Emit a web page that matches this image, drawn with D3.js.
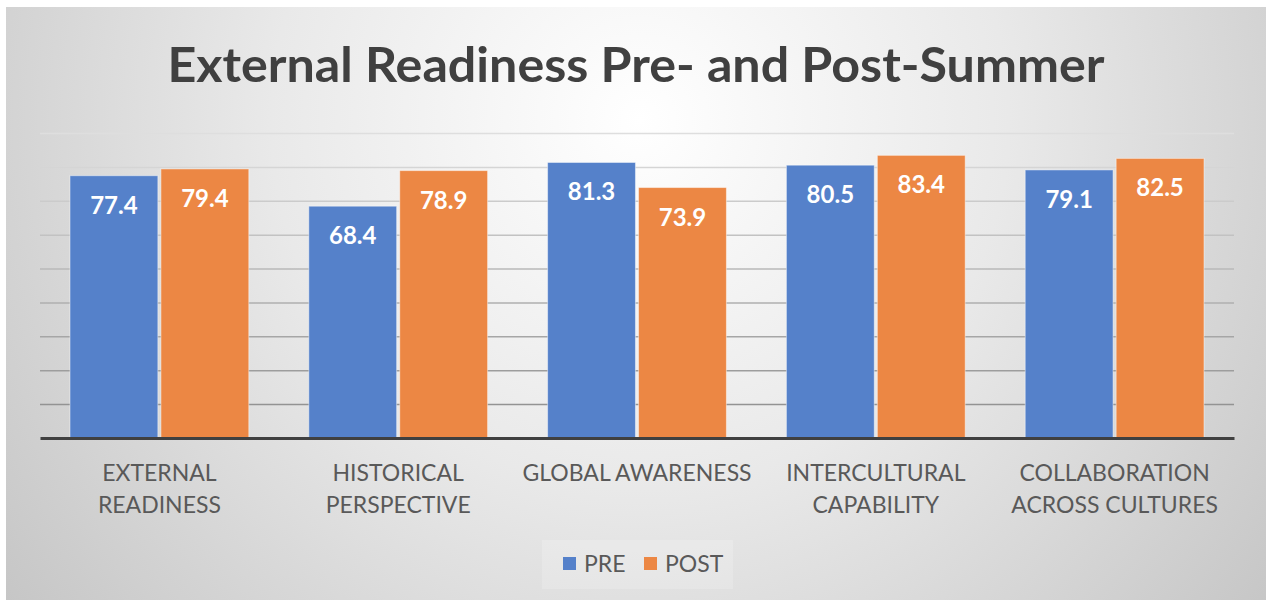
<!DOCTYPE html>
<html>
<head>
<meta charset="utf-8">
<script src="https://cdn.jsdelivr.net/npm/d3@7"></script>
<style>
  body { margin: 0; background: #fff; }
  #chart svg { display: block; }
</style>
</head>
<body>
<div id="chart"></div>
<script>
// values
const categories = ["EXTERNAL\nREADINESS", "HISTORICAL\nPERSPECTIVE", "GLOBAL AWARENESS", "INTERCULTURAL\nCAPABILITY", "COLLABORATION\nACROSS CULTURES"];
const series = ["PRE", "POST"];
const preValues = [77.4, 68.4, 81.3, 80.5, 79.1];
const postValues = [79.4, 78.9, 73.9, 83.4, 82.5];
const yTicks = [0, 10, 20, 30, 40, 50, 60, 70, 80, 90];
const titleText = "External Readiness Pre- and Post-Summer";

const colors = { PRE: "#5581ca", POST: "#ec8744" };

const W = 1266, H = 600;
const margin = { top: 133, right: 32, bottom: 162, left: 40 };
const width = W - margin.left - margin.right;
const height = H - margin.top - margin.bottom;

const svg = d3.select("#chart").append("svg")
  .attr("width", W)
  .attr("height", H);

// gray radial background like the office chart style
const defs = svg.append("defs");
const grad = defs.append("radialGradient")
  .attr("id", "bg")
  .attr("gradientUnits", "userSpaceOnUse")
  .attr("cx", 640).attr("cy", 120).attr("r", 820);
grad.append("stop").attr("offset", "0").attr("stop-color", "#ffffff");
grad.append("stop").attr("offset", "0.45").attr("stop-color", "#e9e9e9");
grad.append("stop").attr("offset", "1").attr("stop-color", "#c4c4c4");

svg.append("rect")
  .attr("x", 6).attr("y", 7)
  .attr("width", W - 6).attr("height", H - 7)
  .attr("fill", "url(#bg)");

// title
const title = svg.append("text")
  .attr("x", 636)
  .attr("y", 82)
  .attr("text-anchor", "middle")
  .attr("font-family", "Lato, 'Open Sans', sans-serif")
  .attr("font-weight", "bold")
  .attr("font-size", 48)
  .attr("fill", "#404040")
  .text(titleText);
// squeeze it to the width it has in the picture
const tw = title.node().getComputedTextLength();
if (Math.abs(tw - 937) > 10) title.attr("textLength", 937).attr("lengthAdjust", "spacingAndGlyphs");

const g = svg.append("g")
  .attr("transform", `translate(${margin.left},${margin.top})`);

const x0 = d3.scaleBand()
  .domain(categories)
  .range([0, width])
  .padding(0);

const x1 = d3.scaleBand()
  .domain(series)
  .range([0, x0.bandwidth()])
  .paddingInner(0.034)
  .paddingOuter(0.33);

const y = d3.scaleLinear()
  .domain([0, 90])
  .range([height, 0]);

// gridlines, getting darker toward the bottom
const gridColor = d3.interpolateRgb("#dedede", "#8a8a8a");
const grid = g.append("g")
  .call(d3.axisLeft(y).tickValues(yTicks.slice(1)).tickSize(-width).tickFormat(""));
grid.select(".domain").remove();
grid.selectAll(".tick line")
  .attr("stroke", (d) => gridColor(1 - d / 90))
  .attr("stroke-width", 1.5);

const rows = categories.map((c, i) => ({ cat: c, values: [preValues[i], postValues[i]] }));

const groups = g.selectAll(".grp")
  .data(rows)
  .enter().append("g")
  .attr("class", "grp")
  .attr("transform", (d) => `translate(${x0(d.cat)},0)`);

groups.selectAll("rect")
  .data((d) => d.values.map((v, k) => ({ s: series[k], v: v })))
  .enter().append("rect")
  .attr("x", (d) => x1(d.s))
  .attr("y", (d) => y(d.v))
  .attr("width", x1.bandwidth())
  .attr("height", (d) => height - y(d.v))
  .attr("fill", (d) => colors[d.s])
  .attr("stroke", "rgba(255,255,255,0.45)")
  .attr("stroke-width", 1);

// value labels inside the top of each bar
groups.selectAll(".val")
  .data((d) => d.values.map((v, k) => ({ s: series[k], v: v })))
  .enter().append("text")
  .attr("class", "val")
  .attr("x", (d) => x1(d.s) + x1.bandwidth() / 2)
  .attr("y", (d) => y(d.v) + 38)
  .attr("text-anchor", "middle")
  .attr("font-family", "Lato, sans-serif")
  .attr("font-weight", "bold")
  .attr("font-size", 24)
  .attr("fill", "#fff")
  .text((d) => d.v.toFixed(1));

// x axis: thick dark baseline + wrapped category names
const xAxis = g.append("g")
  .attr("transform", `translate(0,${height})`)
  .call(d3.axisBottom(x0).tickSize(0).tickSizeOuter(0).tickPadding(0));
xAxis.select(".domain")
  .attr("stroke", "#404040")
  .attr("stroke-width", 3);
xAxis.selectAll(".tick text")
  .attr("y", 0).attr("dy", null)
  .attr("font-family", "Lato, sans-serif")
  .attr("font-size", 23)
  .attr("fill", "#595959")
  .each(function (d) {
    const t = d3.select(this);
    t.text(null);
    d.split("\n").forEach((line, i) => {
      t.append("tspan").attr("x", 0).attr("y", 43 + i * 32).text(line);
    });
  });

// legend
const legend = svg.append("g");
legend.append("rect")
  .attr("x", 542).attr("y", 540)
  .attr("width", 191).attr("height", 49)
  .attr("fill", "rgba(255,255,255,0.18)");
const legendX = [563, 644];
series.forEach((s, i) => {
  legend.append("rect")
    .attr("x", legendX[i]).attr("y", 557)
    .attr("width", 13).attr("height", 13)
    .attr("fill", colors[s]);
  legend.append("text")
    .attr("x", legendX[i] + 21).attr("y", 572)
    .attr("font-family", "Lato, sans-serif")
    .attr("font-size", 23)
    .attr("fill", "#595959")
    .text(s);
});
</script>
</body>
</html>
